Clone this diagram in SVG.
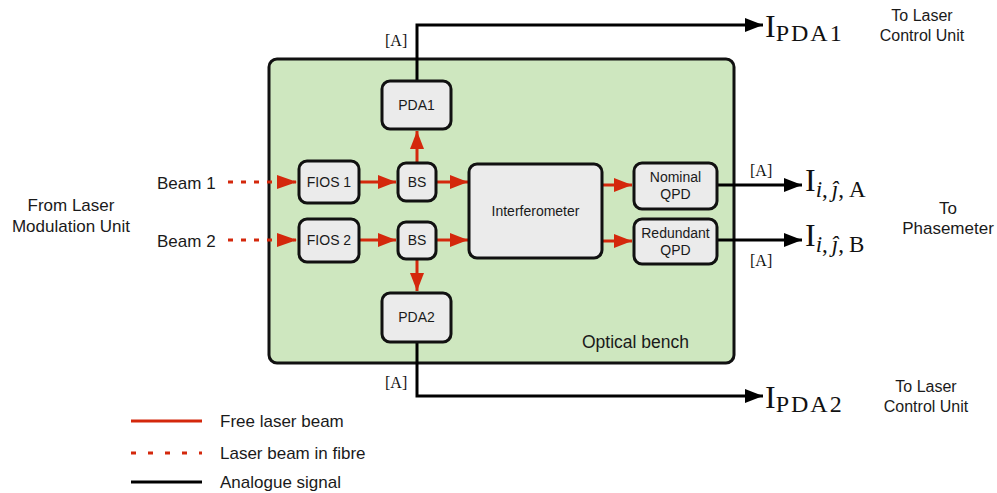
<svg xmlns="http://www.w3.org/2000/svg" width="997" height="493" viewBox="0 0 997 493">
  <style>
    .sans { font-family: "Liberation Sans", Arial, Helvetica, sans-serif; fill: #1a1a1a; }
    .math { font-family: "Liberation Serif", "DejaVu Serif", serif; fill: #111; }
    .node { fill: #ebebeb; stroke: #111; stroke-width: 3; }
    .beam { stroke: #d4280c; stroke-width: 3; fill: none; }
    .fibre { stroke: #d4280c; stroke-width: 3; fill: none; stroke-dasharray: 5 8; }
    .signal { stroke: #000; stroke-width: 3; fill: none; }
    .lbl { font-size: 14px; text-anchor: middle; }
    .txt { font-size: 17px; }
    .dest { font-size: 16px; text-anchor: middle; }
    .sub { font-size: 24px; letter-spacing: 2px; }
  </style>
  <defs>
    <marker id="redHead" viewBox="0 0 18 14" refX="18" refY="7" markerWidth="18" markerHeight="14" markerUnits="userSpaceOnUse" orient="auto">
      <path d="M0,0 L18,7 L0,14 Z" fill="#d4280c"/>
    </marker>
    <marker id="blackHead" viewBox="0 0 18 14" refX="18" refY="7" markerWidth="18" markerHeight="14" markerUnits="userSpaceOnUse" orient="auto">
      <path d="M0,0 L18,7 L0,14 Z" fill="#000"/>
    </marker>
  </defs>

  <!-- Optical bench -->
  <g id="bench">
    <rect x="269" y="59" width="465" height="304" rx="8" fill="#cee7bf" stroke="#111" stroke-width="3"/>
    <text class="sans" x="582" y="348" font-size="17.5">Optical bench</text>
  </g>

  <!-- Connectors -->
  <g id="connectors">
    <!-- fibre inputs -->
    <line class="fibre" x1="228" y1="182" x2="296" y2="182"/>
    <line class="fibre" x1="228" y1="240" x2="296" y2="240"/>
    <path d="M277,175 L297,182 L277,189 Z" fill="#d4280c"/>
    <path d="M277,233 L297,240 L277,247 Z" fill="#d4280c"/>
    <!-- free beams -->
    <line class="beam" x1="359" y1="182" x2="396" y2="182" marker-end="url(#redHead)"/>
    <line class="beam" x1="359" y1="240" x2="396" y2="240" marker-end="url(#redHead)"/>
    <line class="beam" x1="436" y1="182" x2="468" y2="182" marker-end="url(#redHead)"/>
    <line class="beam" x1="436" y1="240" x2="468" y2="240" marker-end="url(#redHead)"/>
    <line class="beam" x1="417" y1="163" x2="417" y2="131" marker-end="url(#redHead)"/>
    <line class="beam" x1="417" y1="259" x2="417" y2="291" marker-end="url(#redHead)"/>
    <line class="beam" x1="602" y1="185" x2="632" y2="185" marker-end="url(#redHead)"/>
    <line class="beam" x1="602" y1="241" x2="632" y2="241" marker-end="url(#redHead)"/>
    <!-- analogue signals -->
    <polyline class="signal" points="417,81 417,25 763,25" marker-end="url(#blackHead)"/>
    <polyline class="signal" points="417,342 417,396 763,396" marker-end="url(#blackHead)"/>
    <line class="signal" x1="717" y1="185" x2="802" y2="185" marker-end="url(#blackHead)"/>
    <line class="signal" x1="717" y1="240" x2="802" y2="240" marker-end="url(#blackHead)"/>
  </g>

  <!-- Nodes -->
  <g id="pda1">
    <rect class="node" x="382" y="81" width="69" height="48" rx="8"/>
    <text class="sans lbl" x="416.5" y="110">PDA1</text>
  </g>
  <g id="fios1">
    <rect class="node" x="299" y="161" width="60" height="42" rx="8"/>
    <text class="sans lbl" x="329" y="187">FIOS 1</text>
  </g>
  <g id="bs1">
    <rect class="node" x="398" y="163" width="38" height="38" rx="8"/>
    <text class="sans lbl" x="417" y="187">BS</text>
  </g>
  <g id="fios2">
    <rect class="node" x="299" y="219" width="60" height="43" rx="8"/>
    <text class="sans lbl" x="329" y="245">FIOS 2</text>
  </g>
  <g id="bs2">
    <rect class="node" x="398" y="222" width="38" height="37" rx="8"/>
    <text class="sans lbl" x="417" y="245">BS</text>
  </g>
  <g id="interferometer">
    <rect class="node" x="469" y="164" width="133" height="94" rx="8"/>
    <text class="sans lbl" x="535.5" y="216">Interferometer</text>
  </g>
  <g id="nominal-qpd">
    <rect class="node" x="634" y="163" width="83" height="46" rx="8"/>
    <text class="sans lbl" x="675.5" y="182">Nominal</text>
    <text class="sans lbl" x="675.5" y="199">QPD</text>
  </g>
  <g id="redundant-qpd">
    <rect class="node" x="634" y="219" width="83" height="45" rx="8"/>
    <text class="sans lbl" x="675.5" y="238">Redundant</text>
    <text class="sans lbl" x="675.5" y="255">QPD</text>
  </g>
  <g id="pda2">
    <rect class="node" x="382" y="293" width="69" height="49" rx="8"/>
    <text class="sans lbl" x="416.5" y="322">PDA2</text>
  </g>

  <!-- Inputs and outputs -->
  <g id="inputs">
    <text class="sans txt" x="157" y="189">Beam 1</text>
    <text class="sans txt" x="157" y="247">Beam 2</text>
    <text class="sans txt" x="71" y="211" text-anchor="middle">From Laser</text>
    <text class="sans txt" x="71" y="232" text-anchor="middle">Modulation Unit</text>
  </g>

  <g id="outputs">
    <text class="math" x="385" y="46" font-size="16">[A]</text>
    <text class="math" x="385" y="388" font-size="16">[A]</text>
    <text class="math" x="750" y="176" font-size="16">[A]</text>
    <text class="math" x="750" y="266" font-size="16">[A]</text>

    <text class="math" x="765" y="37" font-size="32">I<tspan class="sub" dy="4">PDA1</tspan></text>
    <text class="math" x="765" y="408" font-size="32">I<tspan class="sub" dy="4">PDA2</tspan></text>
    <text class="math" x="805" y="191" font-size="32">I<tspan font-size="23" dy="6" font-style="italic">i</tspan><tspan font-size="23">,</tspan><tspan font-size="23" dx="4" font-style="italic">ĵ</tspan><tspan font-size="23">,</tspan><tspan font-size="23" dx="5">A</tspan></text>
    <text class="math" x="805" y="246" font-size="32">I<tspan font-size="23" dy="6" font-style="italic">i</tspan><tspan font-size="23">,</tspan><tspan font-size="23" dx="4" font-style="italic">ĵ</tspan><tspan font-size="23">,</tspan><tspan font-size="23" dx="5">B</tspan></text>

    <text class="sans dest" x="922" y="21">To Laser</text>
    <text class="sans dest" x="922" y="41">Control Unit</text>
    <text class="sans dest" x="926" y="392">To Laser</text>
    <text class="sans dest" x="926" y="412">Control Unit</text>
    <text class="sans txt" x="948" y="214" text-anchor="middle">To</text>
    <text class="sans txt" x="948" y="234" text-anchor="middle">Phasemeter</text>
  </g>

  <!-- Legend -->
  <g id="legend">
    <line class="beam" x1="131" y1="421" x2="202" y2="421"/>
    <line class="beam" x1="131" y1="453" x2="202" y2="453" stroke-dasharray="5 12"/>
    <line class="signal" x1="131" y1="482" x2="202" y2="482"/>
    <text class="sans txt" x="220" y="427">Free laser beam</text>
    <text class="sans txt" x="220" y="459">Laser beam in fibre</text>
    <text class="sans txt" x="220" y="488">Analogue signal</text>
  </g>
</svg>
